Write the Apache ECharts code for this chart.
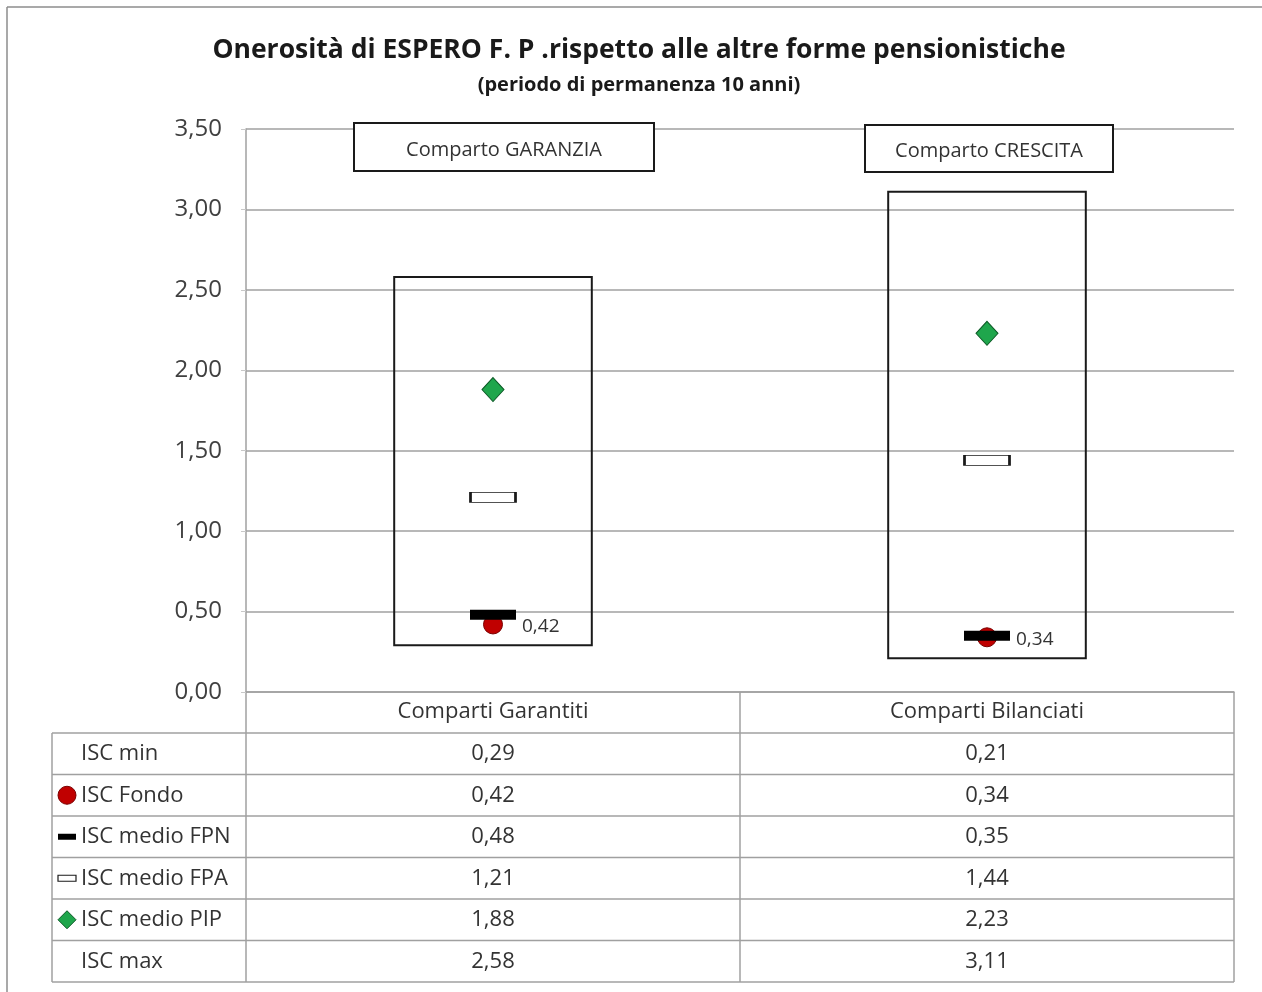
<!DOCTYPE html>
<html>
<head>
<meta charset="utf-8">
<script src="https://cdn.jsdelivr.net/npm/echarts@6/dist/echarts.min.js"></script>
<style>
html,body{margin:0;padding:0;background:#fff;}
#chart{width:1262px;height:992px;}
</style>
</head>
<body>
<div id="chart"></div>
<script>
var categories = ['Comparti Garantiti', 'Comparti Bilanciati'];
var comparti = ['Comparto GARANZIA', 'Comparto CRESCITA'];
var iscMin = [0.29, 0.21];
var iscFondo = [0.42, 0.34];
var iscFPN = [0.48, 0.35];
var iscFPA = [1.21, 1.44];
var iscPIP = [1.88, 2.23];
var iscMax = [2.58, 3.11];
var rowLabels = ['ISC min', 'ISC Fondo', 'ISC medio FPN', 'ISC medio FPA', 'ISC medio PIP', 'ISC max'];
var rowValues = [iscMin, iscFondo, iscFPN, iscFPA, iscPIP, iscMax];
var yMin = 0, yMax = 3.5, yStep = 0.5;

var FONT = 'Open Sans';
function fmt(v) { return v.toFixed(2).replace('.', ','); }

var chart = echarts.init(document.getElementById('chart'), null, {renderer: 'canvas'});

var grid = {left: 246, right: 28, top: 129, bottom: 300};

var option = {
  animation: false,
  backgroundColor: '#ffffff',
  title: {
    text: 'Onerosità di ESPERO F. P .rispetto alle altre forme pensionistiche',
    subtext: '(periodo di permanenza 10 anni)',
    left: 634, top: 32, textAlign: 'center',
    itemGap: 11,
    textStyle: {fontFamily: FONT, fontSize: 26.5, fontWeight: 'bold', color: '#1a1a1a'},
    subtextStyle: {fontFamily: FONT, fontSize: 20, fontWeight: 'bold', color: '#1a1a1a'}
  },
  grid: grid,
  xAxis: {
    type: 'category', data: categories,
    axisLine: {show: true, lineStyle: {color: '#a0a0a0', width: 1.5}},
    axisTick: {show: false},
    axisLabel: {show: true, fontFamily: FONT, fontSize: 22, color: '#333333', margin: 9},
    splitLine: {show: false}
  },
  yAxis: {
    type: 'value', min: yMin, max: yMax, interval: yStep,
    axisLine: {show: true, lineStyle: {color: '#a0a0a0', width: 1.5}},
    axisTick: {show: true, length: 5, lineStyle: {color: '#c8c8c8'}},
    axisLabel: {fontFamily: FONT, fontSize: 24, color: '#404040', margin: 24, formatter: function (v) { return fmt(v); }},
    splitLine: {show: true, lineStyle: {color: '#a0a0a0', width: 1.5}}
  },
  series: [
    {
      name: 'range', type: 'custom', z: 2,
      data: categories.map(function (c, i) { return [i, iscMin[i], iscMax[i]]; }),
      renderItem: function (params, api) {
        var p0 = api.coord([api.value(0), api.value(1)]);
        var p1 = api.coord([api.value(0), api.value(2)]);
        var w = api.size([1, 0])[0] * 0.4;
        return {
          type: 'rect',
          shape: {x: p0[0] - w / 2, y: p1[1], width: w, height: p0[1] - p1[1]},
          style: {fill: 'none', stroke: '#1a1a1a', lineWidth: 2}
        };
      }
    },
    {
      name: 'ISC Fondo', type: 'scatter', z: 3,
      data: iscFondo.map(function (v, i) { return [i, v]; }),
      symbol: 'circle', symbolSize: 19,
      itemStyle: {color: '#c00000', borderColor: '#7a0000', borderWidth: 1, opacity: 1},
      label: {show: true, position: 'right', distance: 19, offset: [0, 2], fontFamily: FONT, fontSize: 19, color: '#333333',
        formatter: function (p) { return fmt(p.value[1]); }}
    },
    {
      name: 'ISC medio FPN', type: 'scatter', z: 4,
      data: iscFPN.map(function (v, i) { return [i, v]; }),
      symbol: 'rect', symbolSize: [46, 10],
      itemStyle: {color: '#000000', opacity: 1}
    },
    {
      name: 'ISC medio FPA', type: 'scatter', z: 4,
      data: iscFPA.map(function (v, i) { return [i, v]; }),
      symbol: 'rect', symbolSize: [45, 10],
      itemStyle: {color: '#ffffff', borderColor: '#1a1a1a', borderWidth: 1.3, opacity: 1}
    },
    {
      name: 'ISC medio PIP', type: 'scatter', z: 4,
      data: iscPIP.map(function (v, i) { return [i, v]; }),
      symbol: 'diamond', symbolSize: [22, 24],
      itemStyle: {color: '#1fa64c', borderColor: '#0c5a26', borderWidth: 1, opacity: 1}
    }
  ]
};
chart.setOption(option);

// Build table + annotation boxes from the axis scale
var x0 = chart.convertToPixel({xAxisIndex: 0}, 0);
var x1 = chart.convertToPixel({xAxisIndex: 0}, 1);
var colW = x1 - x0;
var colCenters = categories.map(function (c, i) { return chart.convertToPixel({xAxisIndex: 0}, i); });
var yBase = chart.convertToPixel({yAxisIndex: 0}, 0);
var plotLeft = x0 - colW / 2;
var plotRight = x1 + colW / 2;
var tableLeft = 52;
var headerH = 41;
var rowH = 41.5;
var lineColor = '#a0a0a0';
var els = [];

// outer frame (top & left)
els.push({type: 'line', shape: {x1: 7, y1: 7, x2: 1262, y2: 7}, style: {stroke: '#8c8c8c', lineWidth: 1.5}});
els.push({type: 'line', shape: {x1: 7, y1: 7, x2: 7, y2: 992}, style: {stroke: '#8c8c8c', lineWidth: 1.5}});

var tableTop = yBase + headerH;
var tableBottom = tableTop + rowH * rowLabels.length;
[plotLeft, x0 + colW / 2, plotRight].forEach(function (x) {
  els.push({type: 'line', shape: {x1: x, y1: yBase, x2: x, y2: tableBottom}, style: {stroke: lineColor, lineWidth: 1.5}});
});
els.push({type: 'line', shape: {x1: tableLeft, y1: tableTop, x2: tableLeft, y2: tableBottom}, style: {stroke: lineColor, lineWidth: 1.5}});
for (var r = 0; r <= rowLabels.length; r++) {
  var yy = tableTop + r * rowH;
  els.push({type: 'line', shape: {x1: tableLeft, y1: yy, x2: plotRight, y2: yy}, style: {stroke: lineColor, lineWidth: 1.5}});
}
rowLabels.forEach(function (lab, r) {
  var cy = tableTop + r * rowH + rowH / 2;
  els.push({type: 'text', x: 81, y: cy, style: {text: lab, fontFamily: FONT, fontSize: 22, fill: '#333333', textVerticalAlign: 'middle', textAlign: 'left'}});
  rowValues[r].forEach(function (v, c) {
    els.push({type: 'text', x: colCenters[c], y: cy, style: {text: fmt(v), fontFamily: FONT, fontSize: 22, fill: '#333333', textVerticalAlign: 'middle', textAlign: 'center'}});
  });
  var ix = 67;
  if (r === 1) els.push({type: 'circle', shape: {cx: ix, cy: cy, r: 9}, style: {fill: '#c00000', stroke: '#7a0000', lineWidth: 1}});
  if (r === 2) els.push({type: 'rect', shape: {x: ix - 9, y: cy - 3, width: 18, height: 6}, style: {fill: '#000'}});
  if (r === 3) els.push({type: 'rect', shape: {x: ix - 9, y: cy - 3, width: 18, height: 6}, style: {fill: '#fff', stroke: '#1a1a1a', lineWidth: 1.2}});
  if (r === 4) els.push({type: 'polygon', shape: {points: [[ix, cy - 9], [ix + 9, cy], [ix, cy + 9], [ix - 9, cy]]}, style: {fill: '#1fa64c', stroke: '#0c5a26', lineWidth: 1}});
});

// annotation boxes
var annBoxes = [
  {x: 354, y: 123, w: 300, h: 48},
  {x: 865, y: 125, w: 248, h: 47}
];
comparti.forEach(function (t, i) {
  var b = annBoxes[i];
  els.push({type: 'rect', z: 10, shape: {x: b.x, y: b.y, width: b.w, height: b.h}, style: {fill: '#ffffff', stroke: '#1a1a1a', lineWidth: 2}});
  els.push({type: 'text', z: 11, x: b.x + b.w / 2, y: b.y + b.h / 2 + 3, style: {text: t, fontFamily: FONT, fontSize: 20, fill: '#333333', textAlign: 'center', textVerticalAlign: 'middle'}});
});

chart.setOption({graphic: {elements: els}});
</script>
</body>
</html>
